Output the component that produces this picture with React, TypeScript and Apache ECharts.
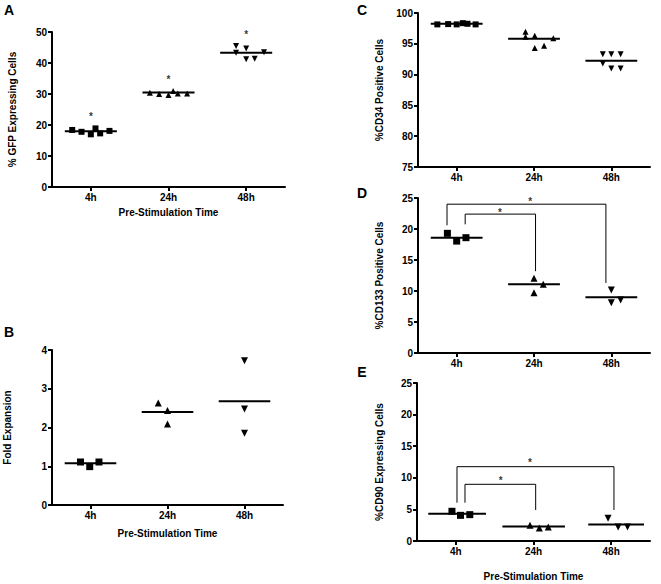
import React, { useEffect, useRef } from "react";
import * as echarts from "echarts";

// ---------- data ----------
const categories = ["4h", "24h", "48h"];

// A: % GFP expressing cells
const gfpTicks = [0, 10, 20, 30, 40, 50];
const gfp4h = [18.4, 17.8, 17.0, 18.9, 17.3, 18.1];
const gfp24h = [30.4, 30.0, 29.7, 31.0, 30.2, 30.2];
const gfp48h = [45.5, 43.3, 44.7, 41.2, 41.4, 43.5];
const gfpMean = [18.0, 30.5, 43.3];
const gfpStar = [23.5, 35.3, 49.8];

// B: fold expansion
const foldTicks = [0, 1, 2, 3, 4];
const fold4h = [1.11, 0.99, 1.11];
const fold24h = [2.63, 2.44, 2.09];
const fold48h = [3.72, 2.48, 1.85];
const foldMean = [1.08, 2.4, 2.68];

// C: % CD34 positive cells
const cd34Ticks = [75, 80, 85, 90, 95, 100];
const cd34_4h = [98.15, 98.2, 98.15, 98.35, 98.25, 98.15];
const cd34_24h = [96.95, 96.15, 96.3, 95.9, 94.3, 94.7];
const cd34_48h = [93.3, 93.3, 93.3, 91.8, 91.0, 91.0];
const cd34Mean = [98.25, 95.8, 92.25];

// D: % CD133 positive cells
const cd133Ticks = [0, 5, 10, 15, 20, 25];
const cd133_4h = [19.3, 18.05, 18.6];
const cd133_24h = [12.05, 11.1, 9.7];
const cd133_48h = [10.15, 8.1, 8.55];
const cd133Mean = [18.6, 11.1, 9.0];
const cd133BracketOuter = [[0.375, 20.6], [0.375, 24.0], [2.43, 24.0], [2.43, 11.3]];
const cd133BracketInner = [[0.61, 20.75], [0.61, 22.4], [1.52, 22.4], [1.52, 13.2]];
const cd133Stars = [[1.45, 24.7], [1.06, 23.0]];

// E: % CD90 expressing cells
const cd90Ticks = [0, 5, 10, 15, 20, 25];
const cd90_4h = [4.7, 4.06, 4.17];
const cd90_24h = [2.5, 2.06, 2.2];
const cd90_48h = [3.6, 2.2, 2.2];
const cd90Mean = [4.3, 2.3, 2.6];
const cd90BracketOuter = [[0.515, 6.06], [0.515, 11.76], [2.536, 11.76], [2.536, 4.9]];
const cd90BracketInner = [[0.618, 6.06], [0.618, 8.97], [1.528, 8.97], [1.528, 4.9]];
const cd90Stars = [[1.455, 12.8], [1.078, 9.9]];

// horizontal jitter of the points inside each category (category units)
const jitter6a = [-0.24, -0.12, 0, 0.06, 0.12, 0.24];
const jitter6b = [-0.13, -0.13, 0, 0, 0.11, 0.23];
const jitterC24 = [-0.11, -0.11, 0.01, 0.25, 0.01, 0.13];
const jitterC48 = [-0.11, 0, 0.12, -0.11, 0, 0.12];
const jitter3 = [-0.12, 0, 0.12];

// ---------- layout ----------
const FONT = "Liberation Sans, Arial, sans-serif";
const symbols = ["rect", "triangle", "triangle"];
const rotations = [0, 0, 180];

type Panel = {
  grid: { left: number; top: number; width: number; height: number };
  ticks: number[];
  values: number[][];
  jitter: number[][];
  means: number[];
  spans: number[][];
  yName: string;
  yNameGap: number;
  xName?: string;
  xNameGap?: number;
  symbolSize: number;
  stars?: number[][];
  brackets?: number[][][];
};

const halfSpan = (h: number) => [0, 1, 2].map((i) => [i + 0.5 - h, i + 0.5 + h]);

const panels: Panel[] = [
  {
    grid: { left: 52, top: 32, width: 233, height: 155 },
    ticks: gfpTicks,
    values: [gfp4h, gfp24h, gfp48h],
    jitter: [jitter6a, jitter6a, jitter6b],
    means: gfpMean,
    spans: halfSpan(0.335),
    yName: "% GFP Expressing Cells",
    yNameGap: 35,
    xName: "Pre-Stimulation Time",
    xNameGap: 20,
    symbolSize: 6,
    stars: gfpStar.map((v, i) => [i + 0.5, v]),
  },
  {
    grid: { left: 52, top: 350, width: 231, height: 155 },
    ticks: foldTicks,
    values: [fold4h, fold24h, fold48h],
    jitter: [[-0.13, -0.01, 0.11], [-0.12, 0, 0], [0, 0, 0]],
    means: foldMean,
    spans: halfSpan(0.335),
    yName: "Fold Expansion",
    yNameGap: 40,
    xName: "Pre-Stimulation Time",
    xNameGap: 23,
    symbolSize: 7,
  },
  {
    grid: { left: 418, top: 13, width: 232, height: 154 },
    ticks: cd34Ticks,
    values: [cd34_4h, cd34_24h, cd34_48h],
    jitter: [[-0.25, -0.11, 0, 0.08, 0.14, 0.245], jitterC24, jitterC48],
    means: cd34Mean,
    spans: halfSpan(0.335),
    yName: "%CD34 Positive Cells",
    yNameGap: 34,
    symbolSize: 6,
  },
  {
    grid: { left: 418, top: 198, width: 232, height: 155 },
    ticks: cd133Ticks,
    values: [cd133_4h, cd133_24h, cd133_48h],
    jitter: [jitter3, [0, 0.12, 0], [0, 0, 0.12]],
    means: cd133Mean,
    spans: halfSpan(0.335),
    yName: "%CD133 Positive Cells",
    yNameGap: 34,
    symbolSize: 7,
    stars: cd133Stars,
    brackets: [cd133BracketOuter, cd133BracketInner],
  },
  {
    grid: { left: 417, top: 383, width: 233, height: 158 },
    ticks: cd90Ticks,
    values: [cd90_4h, cd90_24h, cd90_48h],
    jitter: [[-0.05, 0.06, 0.18], [-0.045, 0.075, 0.19], [-0.04, 0.09, 0.21]],
    means: cd90Mean,
    spans: [[0.145, 0.888], [1.1, 1.905], [2.205, 2.923]],
    yName: "%CD90 Expressing Cells",
    yNameGap: 33,
    xName: "Pre-Stimulation Time",
    xNameGap: 30,
    symbolSize: 7,
    stars: cd90Stars,
    brackets: [cd90BracketOuter, cd90BracketInner],
  },
];

const letters = [
  { t: "A", x: 9, y: 10 },
  { t: "B", x: 9, y: 332 },
  { t: "C", x: 362, y: 10 },
  { t: "D", x: 362, y: 193 },
  { t: "E", x: 362, y: 372 },
];

function buildOption() {
  const grid: any[] = [];
  const xAxis: any[] = [];
  const yAxis: any[] = [];
  const series: any[] = [];
  const black = "#000";

  panels.forEach((p, k) => {
    grid.push({ ...p.grid, outerBoundsMode: "none", containLabel: false });
    xAxis.push({
      type: "category",
      gridIndex: k,
      data: categories,
      boundaryGap: true,
      name: p.xName || "",
      nameLocation: "middle",
      nameGap: p.xNameGap || 20,
      nameTextStyle: { fontFamily: FONT, fontWeight: "bold", fontSize: 10, color: black },
      axisLine: { show: true, onZero: false, lineStyle: { color: black, width: 2 } },
      axisTick: { show: true, alignWithLabel: true, length: 4, lineStyle: { color: black, width: 2 } },
      axisLabel: { fontFamily: FONT, fontWeight: "bold", fontSize: 10, color: black, margin: 5 },
      splitLine: { show: false },
    });
    xAxis.push({
      type: "value",
      gridIndex: k,
      min: 0,
      max: 3,
      show: false,
      splitLine: { show: false },
    });
    const t = p.ticks;
    yAxis.push({
      type: "value",
      gridIndex: k,
      min: t[0],
      max: t[t.length - 1],
      interval: t[1] - t[0],
      name: p.yName,
      nameLocation: "middle",
      nameGap: p.yNameGap,
      nameTextStyle: { fontFamily: FONT, fontWeight: "bold", fontSize: 10, color: black },
      axisLine: { show: true, onZero: false, lineStyle: { color: black, width: 2 } },
      axisTick: { show: true, length: 4, lineStyle: { color: black, width: 2 } },
      axisLabel: { fontFamily: FONT, fontWeight: "bold", fontSize: 10, color: black, margin: 5 },
      splitLine: { show: false },
    });

    const xi = 2 * k + 1;
    p.values.forEach((vals, g) => {
      series.push({
        type: "scatter",
        xAxisIndex: xi,
        yAxisIndex: k,
        symbol: symbols[g],
        symbolRotate: rotations[g],
        symbolSize: p.symbolSize,
        itemStyle: { color: black, opacity: 1 },
        data: vals.map((v, j) => [g + 0.5 + p.jitter[g][j], v]),
        silent: true,
        z: 3,
      });
      series.push({
        type: "line",
        xAxisIndex: xi,
        yAxisIndex: k,
        symbol: "none",
        lineStyle: { color: black, width: 2 },
        data: [
          [p.spans[g][0], p.means[g]],
          [p.spans[g][1], p.means[g]],
        ],
        silent: true,
        z: 2,
      });
    });
    if (p.brackets) {
      p.brackets.forEach((b) => {
        series.push({
          type: "line",
          xAxisIndex: xi,
          yAxisIndex: k,
          symbol: "none",
          lineStyle: { color: black, width: 1 },
          data: b,
          silent: true,
          z: 2,
        });
      });
    }
    if (p.stars) {
      series.push({
        type: "scatter",
        xAxisIndex: xi,
        yAxisIndex: k,
        symbol: "circle",
        symbolSize: 1,
        itemStyle: { color: "rgba(0,0,0,0)" },
        label: {
          show: true,
          position: "inside",
          formatter: "*",
          fontFamily: FONT,
          fontWeight: "bold",
          fontSize: 10,
          color: black,
          offset: [0, 2],
        },
        data: p.stars,
        silent: true,
        z: 4,
      });
    }
  });

  const graphic = letters.map((l) => ({
    type: "text",
    x: l.x,
    y: l.y,
    style: {
      text: l.t,
      font: `bold 14px ${FONT}`,
      fill: "#000",
      textAlign: "center",
      textVerticalAlign: "middle",
    },
  }));

  return {
    animation: false,
    backgroundColor: "#fff",
    grid,
    xAxis,
    yAxis,
    series,
    graphic,
  };
}

export default function App() {
  const ref = useRef<HTMLDivElement>(null);
  useEffect(() => {
    if (!ref.current) return;
    const chart = echarts.init(ref.current, undefined, { renderer: "svg" });
    chart.setOption(buildOption() as any);
    return () => chart.dispose();
  }, []);
  return (
    <div
      ref={ref}
      style={{ position: "absolute", left: 0, top: 0, width: 661, height: 584, background: "#fff" }}
    />
  );
}
